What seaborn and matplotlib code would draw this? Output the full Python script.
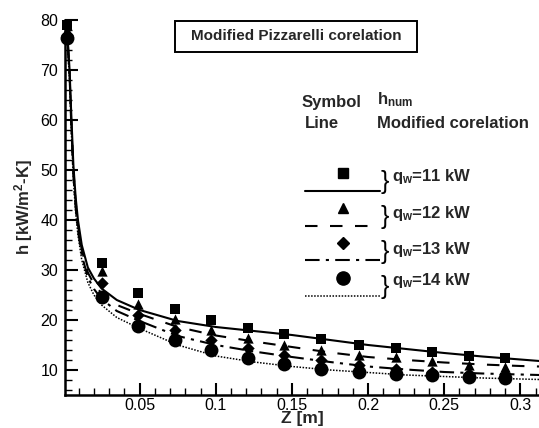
import matplotlib
matplotlib.use("Agg")
import matplotlib.pyplot as plt
import seaborn as sns
import numpy as np
from matplotlib.ticker import MultipleLocator, FixedLocator
from matplotlib.patches import Rectangle

# ---------------- data ----------------
z_pts = [0.002, 0.025, 0.049, 0.073, 0.097, 0.121, 0.145, 0.169, 0.194, 0.218, 0.242, 0.266, 0.290]
h_num_11 = [79.0, 31.3, 25.3, 22.1, 20.0, 18.3, 17.1, 16.1, 15.0, 14.3, 13.5, 12.7, 12.3]
h_num_12 = [78.0, 29.7, 23.2, 20.1, 18.0, 16.3, 15.0, 14.0, 13.0, 12.5, 11.7, 11.0, 10.7]
h_num_13 = [77.0, 27.3, 21.0, 18.0, 16.0, 14.3, 13.0, 12.0, 11.0, 10.3, 9.7, 9.3, 9.2]
h_num_14 = [76.3, 24.5, 18.7, 15.9, 13.9, 12.3, 11.2, 10.3, 9.7, 9.2, 9.0, 8.7, 8.5]

z_line = [0.002, 0.003, 0.004, 0.005, 0.0065, 0.008, 0.0095, 0.012, 0.016, 0.02, 0.025, 0.035,
          0.05, 0.075, 0.1, 0.125, 0.15, 0.175, 0.2, 0.225, 0.25, 0.275, 0.3, 0.3125]
h_cor_11 = [80, 75, 70, 62, 51, 44.5, 40, 35, 30.5, 28.3, 26.3, 24.0, 22.0, 19.8, 18.6, 17.8, 17.0,
            16.0, 15.0, 14.2, 13.4, 12.7, 12.1, 11.8]
h_cor_12 = [80, 74.5, 69.5, 61, 50, 43.5, 39, 34, 29.5, 27.2, 25.3, 23.0, 21.2, 18.6, 16.9, 15.7,
            14.6, 13.5, 12.6, 12.0, 11.5, 11.1, 10.8, 10.7]
h_cor_13 = [80, 74, 69, 60, 49, 42.5, 38, 33, 28.5, 26.2, 24.2, 21.8, 19.8, 16.8, 15.0, 13.7, 12.6,
            11.6, 10.7, 10.1, 9.6, 9.3, 9.1, 9.0]
h_cor_14 = [80, 73, 68, 59, 48, 41.5, 37, 32, 27.5, 25.0, 23.0, 20.5, 18.3, 15.0, 12.8, 11.6, 10.7,
            10.0, 9.5, 9.0, 8.7, 8.4, 8.2, 8.1]

labels = ["11", "12", "13", "14"]
x_ticks = [0.05, 0.1, 0.15, 0.2, 0.25, 0.3]
y_ticks = [10, 20, 30, 40, 50, 60, 70, 80]

# ---------------- style ----------------
sns.set_style("ticks")
plt.rcParams["font.family"] = ["Liberation Sans", "DejaVu Sans"]
plt.rcParams["mathtext.fontset"] = "custom"
plt.rcParams["mathtext.rm"] = "Liberation Sans:bold"
plt.rcParams["mathtext.it"] = "Liberation Sans:bold"
plt.rcParams["mathtext.bf"] = "Liberation Sans:bold"

fig = plt.figure(figsize=(5.39, 4.28), dpi=100)
ax = fig.add_axes([0.1206, 0.0771, 0.8794, 0.8762])

line_styles = ["-", (0, (6, 6)), (0, (7, 3, 1.5, 3)), (0, (1, 1))]
line_widths = [1.5, 1.5, 1.5, 1.1]
markers = ["s", "^", "D", "o"]
msizes = [50, 55, 40, 100]
h_num = [h_num_11, h_num_12, h_num_13, h_num_14]
h_cor = [h_cor_11, h_cor_12, h_cor_13, h_cor_14]

for i in range(4):
    sns.lineplot(x=z_line, y=h_cor[i], ax=ax, color="black", linestyle=line_styles[i],
                 linewidth=line_widths[i], sort=False)
    sns.scatterplot(x=z_pts, y=h_num[i], ax=ax, marker=markers[i], s=msizes[i], color="black",
                    edgecolor="black", linewidth=0, clip_on=False, zorder=3)

ax.set_xlim(0.001, 0.3122)
ax.set_ylim(5, 80)
ax.xaxis.set_major_locator(FixedLocator(x_ticks))
ax.xaxis.set_minor_locator(MultipleLocator(0.01))
ax.yaxis.set_major_locator(FixedLocator(y_ticks))
ax.yaxis.set_minor_locator(MultipleLocator(2))
ax.set_xticklabels([f"{v:g}" for v in x_ticks])
ax.set_yticklabels([f"{v:g}" for v in y_ticks])
ax.tick_params(which="major", direction="in", length=9, width=1.5, labelsize=11.5, colors="black")
ax.tick_params(axis="x", which="major", pad=2)
ax.tick_params(axis="y", which="major", pad=5)
ax.tick_params(which="minor", direction="in", length=5, width=1.0, colors="black")
ax.tick_params(axis="y", which="both", left=True, right=False)
ax.tick_params(axis="x", which="both", bottom=True, top=False)
for s in ["top", "right"]:
    ax.spines[s].set_visible(False)
for s in ["left", "bottom"]:
    ax.spines[s].set_linewidth(1.8)
    ax.spines[s].set_color("black")

ax.set_xlabel("Z [m]", fontsize=12.5, fontweight="bold", labelpad=-1)
ax.set_ylabel(r"h [kW/m$^{2}$-K]", fontsize=12, fontweight="bold", labelpad=4)

# ---------------- annotation / legend ----------------
T = ax.transAxes
ax.add_patch(Rectangle((0.232, 0.914), 0.511, 0.084, transform=T, facecolor="white",
                       edgecolor="black", linewidth=1.4, clip_on=False, zorder=4))
ax.text(0.4875, 0.956, "Modified Pizzarelli corelation", transform=T, ha="center", va="center",
        fontsize=11, fontweight="bold", zorder=5)
ax.text(0.50, 0.779, "Symbol", transform=T, ha="left", va="center", fontsize=12, fontweight="bold")
ax.text(0.506, 0.723, "Line", transform=T, ha="left", va="center", fontsize=12, fontweight="bold")
ax.text(0.658, 0.788, r"h$_{\mathregular{num}}$", transform=T, ha="left", va="center",
        fontsize=12, fontweight="bold")
ax.text(0.658, 0.723, "Modified corelation", transform=T, ha="left", va="center",
        fontsize=12, fontweight="bold")

mk_y = [0.593, 0.498, 0.405, 0.311]
ln_y = [0.544, 0.451, 0.360, 0.264]
tx_y = [0.582, 0.484, 0.389, 0.305]
leg_ms = [6.5, 7, 6, 9.5]
for i in range(4):
    ax.plot([0.586], [mk_y[i]], transform=T, marker=markers[i], color="black", markersize=leg_ms[i],
            linestyle="none", clip_on=False)
    ax.plot([0.506, 0.665], [ln_y[i], ln_y[i]], transform=T, color="black", linestyle=line_styles[i],
            linewidth=line_widths[i], clip_on=False)
    ax.text(0.666, (mk_y[i] + ln_y[i]) / 2, "}", transform=T, ha="left", va="center", fontsize=18,
            fontweight="light", color="black")
    ax.text(0.69, tx_y[i], r"q$_{\mathregular{w}}$=" + labels[i] + " kW", transform=T, ha="left",
            va="center", fontsize=12, fontweight="bold")

fig.savefig("out.png", dpi=100)
